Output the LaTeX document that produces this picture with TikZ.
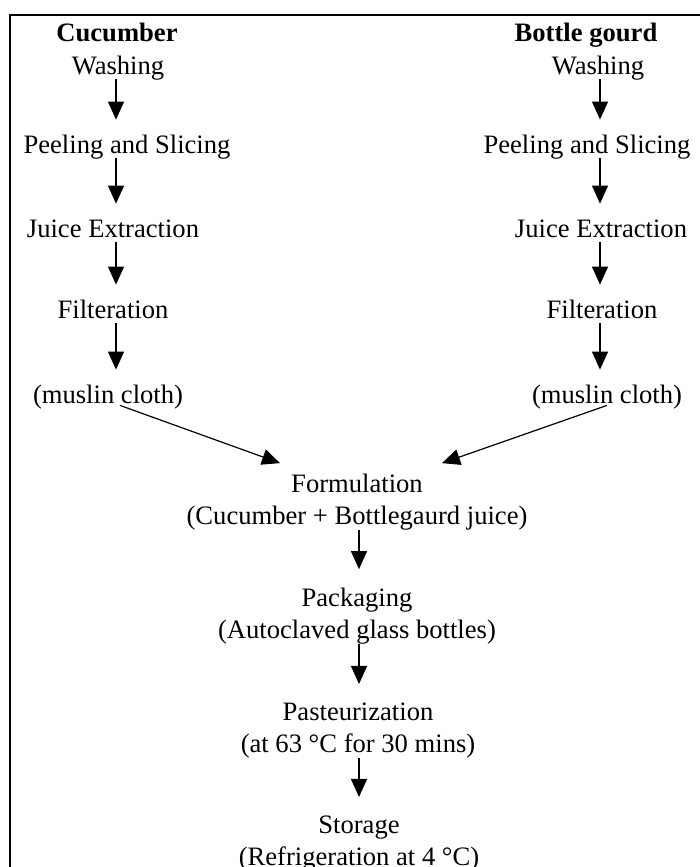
\documentclass[tikz,border=0pt]{standalone}
\usepackage{fontspec}
\setmainfont{Liberation Serif}
\usepackage{tikz}
\usetikzlibrary{calc}
\usetikzlibrary{arrows.meta}

\begin{document}
\begin{tikzpicture}[x=0.5pt,y=-0.5pt]
\tikzstyle{stage}=[inner sep=0pt, anchor=base, align=center, text height=0.75em, text depth=0.25em, font=\fontsize{13.3}{16}\selectfont]
\tikzstyle{stagetwo}=[inner sep=0pt, anchor=base, align=center, font=\fontsize{13.3}{16}\selectfont]
\tikzstyle{title}=[stage, font=\fontsize{13.3}{16}\selectfont\bfseries]
\tikzstyle{arrow}=[line width=0.6pt, black, -{Triangle[length=9pt,width=8pt]}, shorten >=9pt]
\tikzstyle{frame}=[line width=1.1pt]

\useasboundingbox (0,0) rectangle (700,867);
\draw[frame] (10,15) rectangle (712,880);

% column positions
\coordinate (L) at (116,0);
\coordinate (R) at (600,0);
\coordinate (M) at (359,0);

% cucumber
\node[title] (cuc) at (117,41) {Cucumber};
\node[stage] (wash1) at (118,74) {Washing};
\node[stage] (peel1) at (127,153) {Peeling and Slicing};
\node[stage] (juice1) at (113,237) {Juice Extraction};
\node[stage] (filt1) at (113,318) {Filteration};
\node[stage] (mus1) at (108,403) {(muslin cloth)};

\draw[arrow] (wash1.south -| L) -- (peel1.north -| L);
\draw[arrow] (peel1.south -| L) -- (juice1.north -| L);
\draw[arrow] (juice1.south -| L) -- (filt1.north -| L);
\draw[arrow] (filt1.south -| L) -- (mus1.north -| L);

% bottle gourd
\node[title] (bot) at (586,41) {Bottle gourd};
\node[stage] (wash2) at (598,74) {Washing};
\node[stage] (peel2) at (587,153) {Peeling and Slicing};
\node[stage] (juice2) at (601,237) {Juice Extraction};
\node[stage] (filt2) at (602,318) {Filteration};
\node[stage] (mus2) at (607,403) {(muslin cloth)};

\draw[arrow] (wash2.south -| R) -- (peel2.north -| R);
\draw[arrow] (peel2.south -| R) -- (juice2.north -| R);
\draw[arrow] (juice2.south -| R) -- (filt2.north -| R);
\draw[arrow] (filt2.south -| R) -- (mus2.north -| R);

% common steps
\node[stagetwo] (form) at (357,524) {Formulation\\(Cucumber + Bottlegaurd juice)};
\node[stagetwo] (pack) at (357,638) {Packaging\\(Autoclaved glass bottles)};
\node[stagetwo] (past) at (358,752) {Pasteurization\\(at 63 °C for 30 mins)};
\node[stagetwo] (stor) at (359,865) {Storage\\(Refrigeration at 4 °C)};

\draw[arrow, shorten >=0pt] ($(mus1.south)+(12,-3)$) -- ($(form.north)+(-77,-10)$);
\draw[arrow, shorten >=0pt] ($(mus2.south)+(0,-3)$) -- ($(form.north)+(85,-10)$);

\draw[arrow] (form.south -| M) -- (pack.north -| M);
\draw[arrow] (pack.south -| M) -- (past.north -| M);
\draw[arrow] (past.south -| M) -- (stor.north -| M);
\end{tikzpicture}
\end{document}
